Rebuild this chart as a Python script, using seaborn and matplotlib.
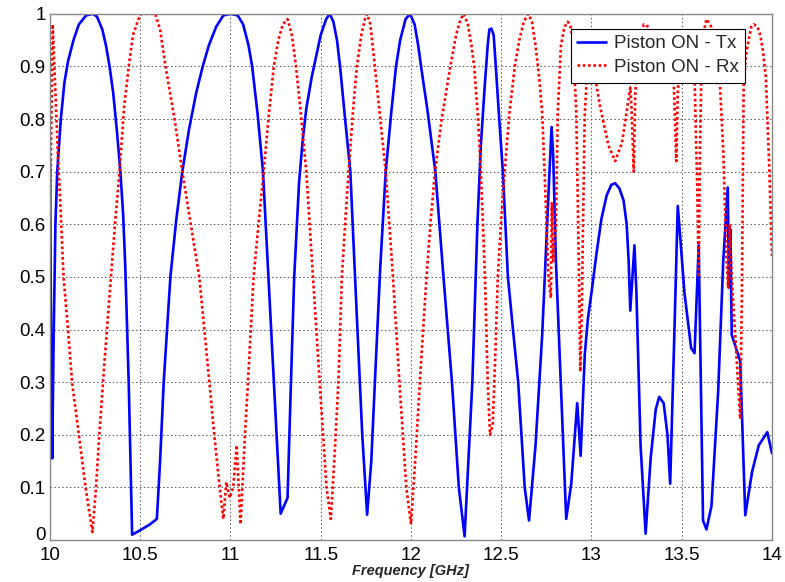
import matplotlib
matplotlib.use("Agg")
import matplotlib.pyplot as plt
import seaborn as sns
import pandas as pd

# Piston ON - Tx (blue, solid)
tx_freq = [10.000, 10.006, 10.012, 10.020, 10.03, 10.04, 10.06, 10.08, 10.10, 10.13,
           10.16, 10.20, 10.235, 10.26, 10.29, 10.31, 10.33, 10.35, 10.37, 10.39,
           10.405, 10.417, 10.436, 10.455, 10.507, 10.555, 10.592, 10.61, 10.63, 10.667,
           10.70, 10.733, 10.77, 10.81, 10.846, 10.88, 10.92, 10.96, 11.0, 11.04,
           11.07, 11.10, 11.12, 11.15, 11.18, 11.21, 11.24, 11.278, 11.316, 11.335,
           11.353, 11.38, 11.40, 11.42, 11.45, 11.475, 11.50, 11.53, 11.55, 11.57,
           11.59, 11.607, 11.635, 11.664, 11.69, 11.73, 11.757, 11.78, 11.80, 11.83,
           11.86, 11.89, 11.917, 11.94, 11.97, 11.995, 12.02, 12.04, 12.06, 12.09,
           12.135, 12.18, 12.227, 12.265, 12.297, 12.34, 12.368, 12.387, 12.41, 12.425,
           12.434, 12.445, 12.458, 12.47, 12.485, 12.509, 12.537, 12.565, 12.594, 12.63,
           12.654, 12.69, 12.727, 12.747, 12.766, 12.779, 12.788, 12.803, 12.83, 12.86,
           12.888, 12.921, 12.94, 12.963, 12.98, 13.0, 13.028, 13.055, 13.084, 13.11,
           13.131, 13.155, 13.178, 13.195, 13.206, 13.215, 13.238, 13.249, 13.272, 13.30,
           13.328, 13.356, 13.375, 13.40, 13.421, 13.436, 13.459, 13.478, 13.493, 13.515,
           13.552, 13.571, 13.584, 13.594, 13.605, 13.618, 13.637, 13.665, 13.702, 13.73,
           13.755, 13.762, 13.77, 13.777, 13.796, 13.824, 13.852, 13.89, 13.927, 13.955,
           13.974, 14.0]
tx_val = [0.72, 0.38, 0.155, 0.38, 0.60, 0.70, 0.80, 0.87, 0.91, 0.95,
          0.98, 0.997, 1.0, 0.995, 0.97, 0.94, 0.90, 0.85, 0.78, 0.70,
          0.62, 0.52, 0.30, 0.01, 0.02, 0.03, 0.04, 0.15, 0.30, 0.50,
          0.61, 0.70, 0.78, 0.85, 0.90, 0.94, 0.975, 0.997, 1.0, 0.997,
          0.98, 0.94, 0.90, 0.81, 0.70, 0.50, 0.30, 0.05, 0.08, 0.30,
          0.50, 0.68, 0.76, 0.82, 0.88, 0.92, 0.96, 0.99, 1.0, 0.985,
          0.95, 0.90, 0.80, 0.70, 0.50, 0.20, 0.048, 0.15, 0.30, 0.52,
          0.70, 0.81, 0.90, 0.95, 0.99, 1.0, 0.98, 0.94, 0.89, 0.82,
          0.70, 0.50, 0.30, 0.10, 0.007, 0.30, 0.60, 0.75, 0.87, 0.94,
          0.97, 0.972, 0.96, 0.90, 0.82, 0.70, 0.50, 0.40, 0.30, 0.10,
          0.037, 0.18, 0.39, 0.545, 0.69, 0.785, 0.73, 0.53, 0.30, 0.04,
          0.107, 0.26, 0.16, 0.353, 0.42, 0.47, 0.545, 0.61, 0.655, 0.675,
          0.678, 0.668, 0.645, 0.60, 0.53, 0.436, 0.56, 0.47, 0.18, 0.012,
          0.156, 0.248, 0.272, 0.26, 0.20, 0.107, 0.39, 0.635, 0.57, 0.47,
          0.365, 0.355, 0.47, 0.56, 0.32, 0.037, 0.02, 0.065, 0.283, 0.53,
          0.67, 0.48, 0.59, 0.39, 0.37, 0.34, 0.047, 0.13, 0.18, 0.195,
          0.205, 0.165]

# Piston ON - Rx (red, dotted)
rx_freq = [10.000, 10.015, 10.03, 10.045, 10.056, 10.075, 10.10, 10.122, 10.16, 10.197,
           10.235, 10.255, 10.273, 10.30, 10.338, 10.36, 10.385, 10.41, 10.436, 10.46,
           10.49, 10.507, 10.55, 10.583, 10.61, 10.64, 10.69, 10.733, 10.78, 10.827,
           10.855, 10.883, 10.91, 10.94, 10.96, 10.977, 10.996, 11.015, 11.034, 11.056,
           11.08, 11.10, 11.128, 11.155, 11.184, 11.21, 11.24, 11.265, 11.29, 11.316,
           11.34, 11.363, 11.39, 11.42, 11.457, 11.494, 11.532, 11.556, 11.575, 11.598,
           11.617, 11.635, 11.654, 11.68, 11.70, 11.725, 11.745, 11.757, 11.775, 11.80,
           11.83, 11.86, 11.90, 11.936, 11.974, 12.0, 12.025, 12.049, 12.086, 12.11,
           12.133, 12.17, 12.218, 12.25, 12.275, 12.293, 12.315, 12.335, 12.35, 12.37,
           12.387, 12.41, 12.425, 12.438, 12.453, 12.468, 12.481, 12.50, 12.519, 12.545,
           12.575, 12.60, 12.625, 12.65, 12.67, 12.69, 12.71, 12.727, 12.747, 12.762,
           12.775, 12.78, 12.788, 12.803, 12.813, 12.831, 12.85, 12.869, 12.885, 12.897,
           12.916, 12.931, 12.938, 12.946, 12.953, 12.963, 12.981, 13.009, 13.047, 13.094,
           13.131, 13.169, 13.206, 13.215, 13.222, 13.234, 13.243, 13.262, 13.29, 13.318,
           13.356, 13.393, 13.44, 13.455, 13.47, 13.478, 13.496, 13.535, 13.571, 13.586,
           13.594, 13.601, 13.612, 13.637, 13.674, 13.71, 13.73, 13.749, 13.757, 13.766,
           13.777, 13.796, 13.815, 13.824, 13.833, 13.843, 13.855, 13.871, 13.885, 13.90,
           13.92, 13.935, 13.95, 13.966, 13.985, 14.0]
rx_val = [0.60, 0.98, 0.85, 0.72, 0.65, 0.50, 0.40, 0.30, 0.20, 0.10,
          0.015, 0.10, 0.20, 0.33, 0.50, 0.60, 0.70, 0.82, 0.90, 0.96,
          0.99, 1.0, 1.0, 1.0, 0.97, 0.90, 0.80, 0.70, 0.60, 0.50,
          0.40, 0.30, 0.20, 0.10, 0.04, 0.11, 0.08, 0.10, 0.18, 0.03,
          0.20, 0.32, 0.50, 0.60, 0.70, 0.80, 0.90, 0.95, 0.98, 0.99,
          0.96, 0.90, 0.81, 0.70, 0.50, 0.30, 0.10, 0.04, 0.15, 0.30,
          0.50, 0.60, 0.70, 0.82, 0.90, 0.96, 0.99, 1.0, 0.98, 0.90,
          0.80, 0.70, 0.50, 0.30, 0.10, 0.03, 0.16, 0.30, 0.50, 0.61,
          0.70, 0.80, 0.90, 0.96, 0.99, 1.0, 0.98, 0.94, 0.90, 0.81,
          0.70, 0.50, 0.30, 0.20, 0.22, 0.36, 0.50, 0.61, 0.70, 0.81,
          0.90, 0.95, 0.985, 1.0, 0.985, 0.94, 0.88, 0.81, 0.64, 0.50,
          0.46, 0.64, 0.53, 0.60, 0.81, 0.94, 0.975, 0.985, 0.975, 0.95,
          0.81, 0.50, 0.32, 0.43, 0.60, 0.81, 0.92, 0.905, 0.825, 0.75,
          0.72, 0.755, 0.84, 0.86, 0.82, 0.70, 0.85, 0.94, 0.98, 0.975,
          0.92, 0.90, 0.92, 0.88, 0.72, 0.85, 0.94, 0.93, 0.88, 0.67,
          0.50, 0.74, 0.95, 0.99, 0.97, 0.88, 0.74, 0.53, 0.48, 0.60,
          0.50, 0.39, 0.28, 0.23, 0.46, 0.86, 0.92, 0.95, 0.975, 0.98,
          0.975, 0.96, 0.93, 0.88, 0.71, 0.54]

xticks = [10, 10.5, 11, 11.5, 12, 12.5, 13, 13.5, 14]
xtick_labels = ["10", "10.5", "11", "11.5", "12", "12.5", "13", "13.5", "14"]
yticks = [0, 0.1, 0.2, 0.3, 0.4, 0.5, 0.6, 0.7, 0.8, 0.9, 1]
ytick_labels = ["0", "0.1", "0.2", "0.3", "0.4", "0.5", "0.6", "0.7", "0.8", "0.9", "1"]

df = pd.concat([
    pd.DataFrame({"freq": tx_freq, "val": tx_val, "series": "Piston ON - Tx"}),
    pd.DataFrame({"freq": rx_freq, "val": rx_val, "series": "Piston ON - Rx"}),
])

sns.set_style("white")
plt.rcParams['font.family'] = ['Liberation Sans', 'DejaVu Sans']

fig = plt.figure(figsize=(7.85, 5.82), dpi=100)
ax = fig.add_axes([0.0637, 0.0722, 0.9197, 0.904])

sns.lineplot(data=df, x="freq", y="val", hue="series", style="series",
             palette={"Piston ON - Tx": "#0000ff", "Piston ON - Rx": "#ff0000"},
             dashes={"Piston ON - Tx": "", "Piston ON - Rx": (1, 1)},
             linewidth=1.9, sort=False, estimator=None, ax=ax)

ax.set_xlim(10, 14)
ax.set_ylim(0, 1)
ax.set_xticks(xticks)
ax.set_xticklabels(xtick_labels)
ax.set_yticks(yticks)
ax.set_yticklabels(ytick_labels)
ax.tick_params(direction="in", length=0, labelsize=13.5, colors="black", pad=3)
ax.tick_params(axis="x", pad=5)
# the "0" label sits on the axis corner, lift it a little so it clears "10"
ax.get_yticklabels()[0].set_verticalalignment("baseline")
ax.grid(True, linestyle=(0, (1.5, 2.5)), color="#555555", linewidth=0.7)
for s in ax.spines.values():
    s.set_color("#888888")
    s.set_linewidth(1.0)

ax.set_xlabel("Frequency [GHz]", fontsize=10.5, fontweight="bold", fontstyle="italic", labelpad=0)
ax.set_ylabel("")

leg = ax.legend(loc="upper right", bbox_to_anchor=(0.963, 0.972), fontsize=13.5,
                frameon=True, fancybox=False, edgecolor="black", framealpha=1,
                handlelength=1.55, borderpad=0.35, labelspacing=0.35, handletextpad=0.4,
                borderaxespad=0)
leg.get_frame().set_linewidth(0.8)

fig.savefig("out.png", dpi=100)
